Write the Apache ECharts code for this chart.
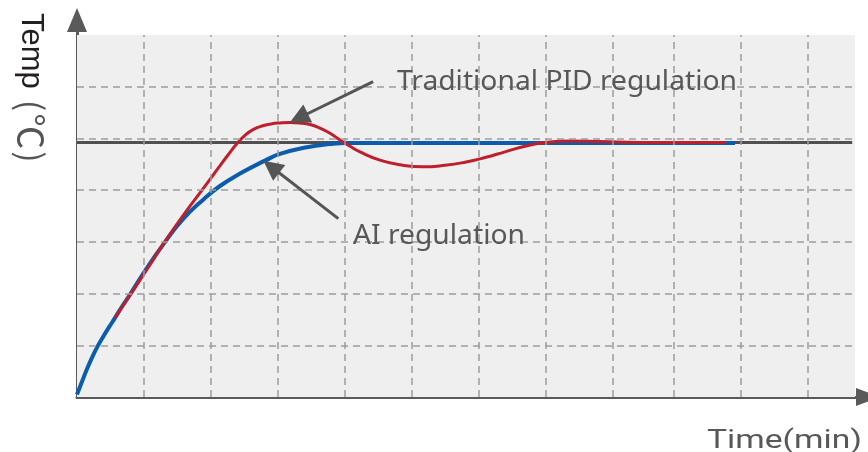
<!DOCTYPE html>
<html>
<head>
<meta charset="utf-8">
<script src="https://cdn.jsdelivr.net/npm/echarts@6/dist/echarts.min.js"></script>
<style>
  html, body { margin: 0; padding: 0; background: #ffffff; }
  #chart { width: 868px; height: 452px; }
</style>
</head>
<body>
<div id="chart"></div>
<script>
// ---- data ----
const xGridVals = [1, 2, 3, 4, 5, 6, 7, 8, 8.9, 9.9, 10.9];
const yGridVals = [1, 2, 3, 4, 5, 6];
const setpointValue = 4.92;
const setpointEnd = 11.57;

const aiX = [0, 0.075, 0.149, 0.224, 0.299, 0.388, 0.478, 0.567, 0.672, 0.791, 1.015, 1.299, 1.582, 1.896, 2.134, 2.433, 2.806, 3.030, 3.433, 3.776, 4.030, 4.5, 5.5, 6.5, 7.5, 8.5, 9.82];
const aiY = [0.05, 0.30, 0.54, 0.76, 0.96, 1.16, 1.35, 1.53, 1.75, 1.98, 2.44, 2.97, 3.44, 3.83, 4.08, 4.32, 4.57, 4.70, 4.83, 4.89, 4.91, 4.91, 4.91, 4.91, 4.91, 4.91, 4.91];

const pidX = [0.567, 0.821, 1.060, 1.299, 1.612, 1.866, 2.104, 2.254, 2.388, 2.507, 2.627, 2.761, 2.896, 3.030, 3.179, 3.328, 3.478, 3.627, 3.776, 3.925, 4.075, 4.224, 4.522, 4.821, 5.164, 5.493, 5.791, 6.090, 6.388, 6.687, 6.985, 7.358, 7.806, 8.403, 9.0, 9.672];
const pidY = [1.53, 2.03, 2.50, 2.98, 3.56, 4.00, 4.42, 4.68, 4.90, 5.06, 5.17, 5.24, 5.28, 5.30, 5.31, 5.30, 5.27, 5.20, 5.10, 4.97, 4.85, 4.74, 4.58, 4.49, 4.45, 4.48, 4.54, 4.63, 4.74, 4.85, 4.92, 4.95, 4.94, 4.92, 4.92, 4.92];

const labelPID = 'Traditional PID regulation';
const labelAI = 'AI regulation';
const labelX = 'Time(min)';
const labelYMain = 'Temp';
const labelYUnit = ['(', '℃', ')'];

// annotation arrows [start, end] in data units
const pidArrow = [[4.42, 6.10], [3.31, 5.395]];
const aiArrow = [[3.90, 3.45], [2.90, 4.452]];

// ---- layout constants ----
const X_MAX = 11.806, Y_MAX = 7.29;
const BG_X_END = 11.612, BG_Y_TOP = 7;
const TEXT_COLOR = '#58585a';

function zip(a, b) { return a.map((v, i) => [v, b[i]]); }
function fitScale(text, font, w) {
  const c = document.createElement('canvas').getContext('2d');
  c.font = font;
  return w / c.measureText(text).width;
}

const annFont = '27px "Noto Sans"';
const annScale = fitScale(labelPID, annFont, 340);
const timeFont = '26px Roboto';
const timeScale = fitScale(labelX, timeFont, 155);

const gridLines = [];
xGridVals.forEach(v => gridLines.push([{ coord: [v, 0] }, { coord: [v, BG_Y_TOP] }]));
yGridVals.forEach(v => gridLines.push([{ coord: [0, v] }, { coord: [BG_X_END, v] }]));

const chart = echarts.init(document.getElementById('chart'), null, { renderer: 'canvas' });
chart.setOption({
  animation: false,
  grid: { left: 77, right: 0, top: 20, bottom: 55, containLabel: false },
  xAxis: {
    type: 'value', min: 0, max: X_MAX,
    axisLine: { show: true, onZero: false, symbol: ['none', 'triangle'], symbolSize: [18, 24],
      lineStyle: { color: '#5a5a5a', width: 3 } },
    axisTick: { show: false }, axisLabel: { show: false }, splitLine: { show: false }
  },
  yAxis: {
    type: 'value', min: 0, max: Y_MAX,
    axisLine: { show: true, onZero: false, symbol: ['none', 'triangle'], symbolSize: [20, 24],
      lineStyle: { color: '#5a5a5a', width: 3 } },
    axisTick: { show: false }, axisLabel: { show: false }, splitLine: { show: false }
  },
  series: [
    {
      name: 'bg', type: 'line', data: [[0, 0]], showSymbol: false, silent: true, z: 0,
      lineStyle: { opacity: 0 },
      markArea: { silent: true, itemStyle: { color: '#efefef' },
        data: [[{ coord: [0, 0] }, { coord: [BG_X_END, BG_Y_TOP] }]] }
    },
    {
      name: 'grid', type: 'line', data: [[0, 0]], showSymbol: false, silent: true, z: 1,
      lineStyle: { opacity: 0 },
      markLine: { silent: true, symbol: ['none', 'none'], label: { show: false },
        lineStyle: { type: [7, 5], color: '#9d9d9d', width: 1.5 },
        emphasis: { disabled: true },
        data: gridLines }
    },
    {
      name: 'setpoint', type: 'line', z: 2, showSymbol: false, silent: true,
      data: [[0, setpointValue], [setpointEnd, setpointValue]],
      lineStyle: { color: '#505050', width: 3 }
    },
    {
      name: 'AI', type: 'line', z: 3, showSymbol: false, smooth: 0.5,
      data: zip(aiX, aiY),
      lineStyle: { color: '#0b5dab', width: 4 }
    },
    {
      name: 'PID', type: 'line', z: 4, showSymbol: false, smooth: 0.5,
      data: zip(pidX, pidY),
      lineStyle: { color: '#be1f2c', width: 3 }
    },
    {
      name: 'arrows', type: 'line', data: [[0, 0]], showSymbol: false, silent: true, z: 5,
      lineStyle: { opacity: 0 },
      markLine: { silent: true, symbol: ['none', 'triangle'], symbolSize: 20, label: { show: false },
        lineStyle: { type: 'solid', color: '#555555', width: 3 },
        itemStyle: { color: '#555555' },
        data: [
          [{ coord: pidArrow[0] }, { coord: pidArrow[1] }],
          [{ coord: aiArrow[0] }, { coord: aiArrow[1] }]
        ] }
    }
  ],
  graphic: [
    { type: 'text', x: 397, y: 82.5, scaleX: annScale, z: 10,
      style: { text: labelPID, font: annFont, fill: TEXT_COLOR, textAlign: 'left', textVerticalAlign: 'middle', align: 'left', verticalAlign: 'middle' } },
    { type: 'text', x: 353, y: 236.5, scaleX: annScale, z: 10,
      style: { text: labelAI, font: annFont, fill: TEXT_COLOR, textAlign: 'left', textVerticalAlign: 'middle', align: 'left', verticalAlign: 'middle' } },
    { type: 'text', x: 707, y: 441, scaleX: timeScale, z: 10,
      style: { text: labelX, font: timeFont, fill: TEXT_COLOR, textAlign: 'left', textVerticalAlign: 'middle', align: 'left', verticalAlign: 'middle' } },
    { type: 'text', x: 31, y: 13, rotation: -Math.PI / 2, z: 10,
      style: { text: '{a|' + labelYMain + '}{p|' + labelYUnit[0] + '}{c|' + labelYUnit[1] + '}{q|' + labelYUnit[2] + '}',
        textAlign: 'left', textVerticalAlign: 'middle', align: 'left', verticalAlign: 'middle',
        rich: {
          a: { fontFamily: '"Liberation Sans"', fontSize: 31, fill: '#231f20', color: '#231f20' },
          p: { fontFamily: '"Noto Sans CJK SC"', fontSize: 34, fill: '#555555', color: '#555555', padding: [0, 1, 0, 11] },
          c: { fontFamily: '"Noto Sans CJK SC"', fontSize: 36, fill: '#555555', color: '#555555', padding: [0, 2, 0, 1] },
          q: { fontFamily: '"Noto Sans CJK SC"', fontSize: 34, fill: '#555555', color: '#555555' }
        } } }
  ]
});
</script>
</body>
</html>
